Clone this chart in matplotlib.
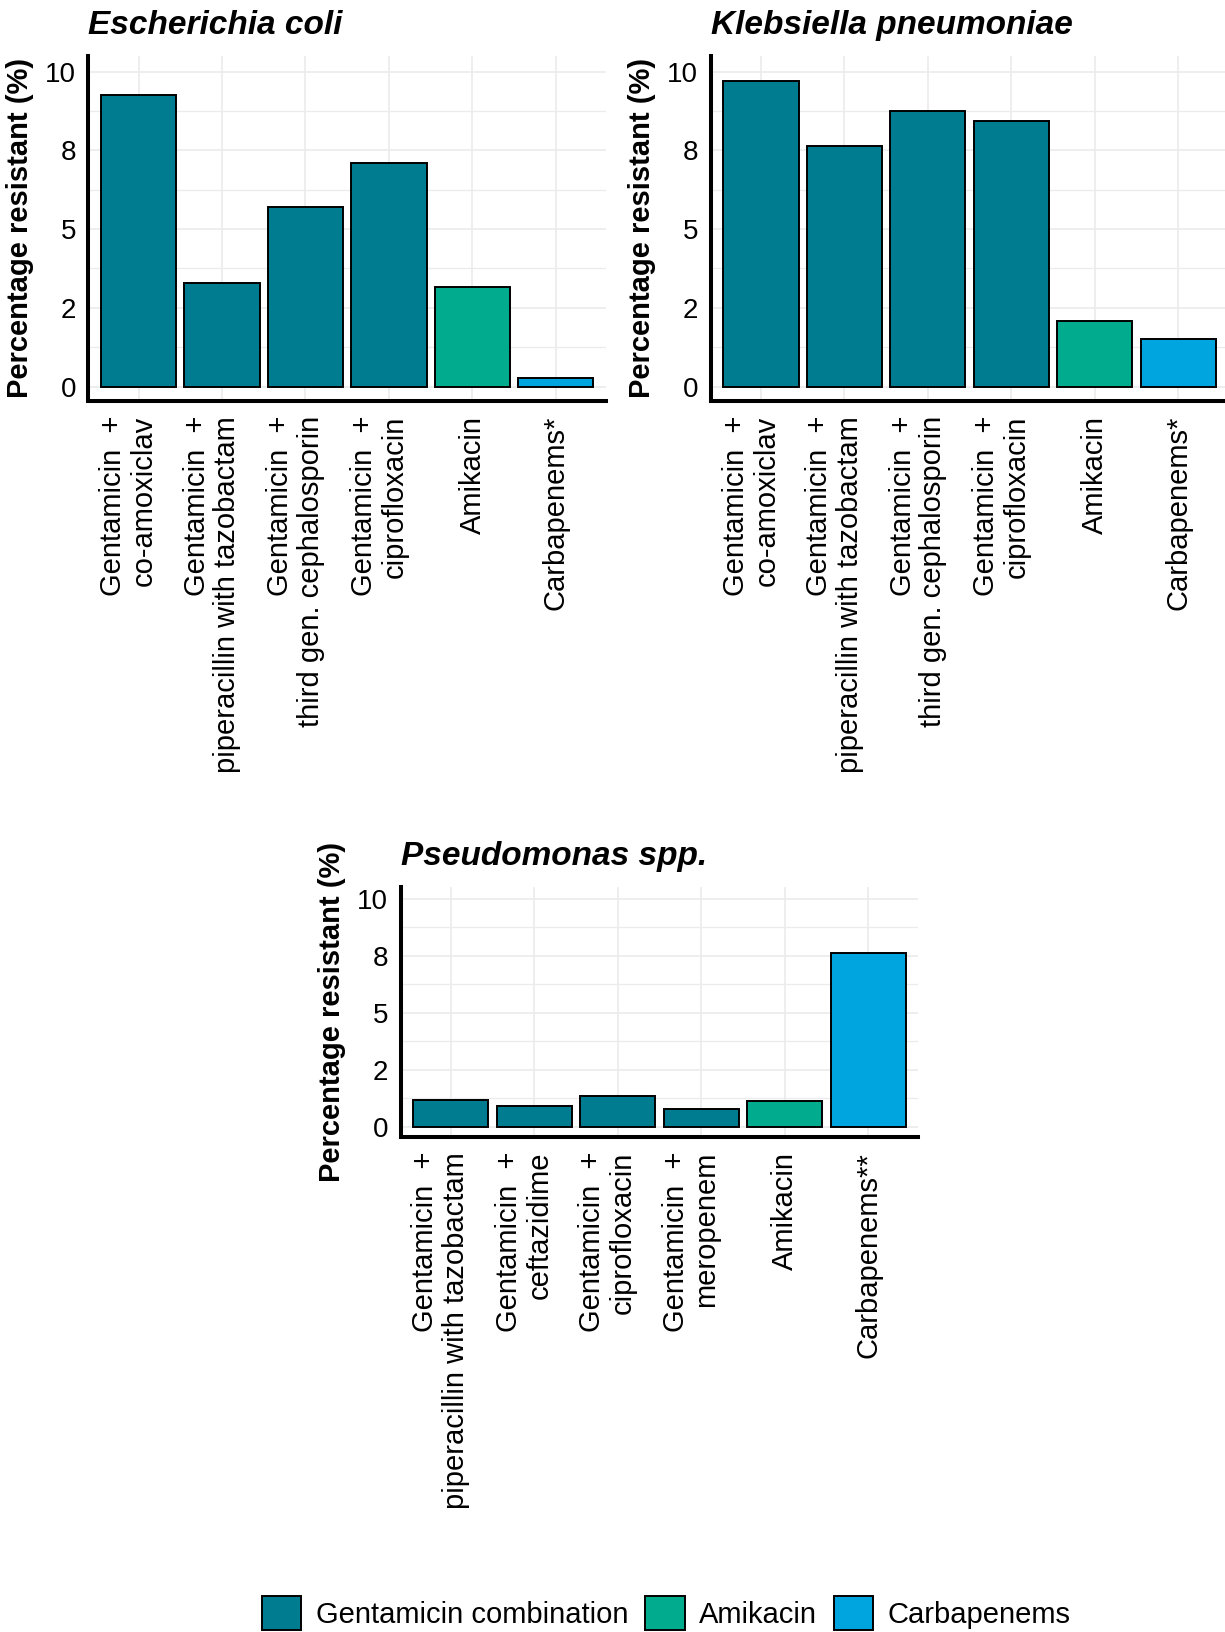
import matplotlib
matplotlib.use("Agg")
import matplotlib.pyplot as plt
import matplotlib.transforms as mtransforms
from matplotlib.patches import Patch

plt.rcParams['font.family'] = ['Liberation Sans', 'DejaVu Sans']

# data (percentage resistant)
ecoli_labels = ["Gentamicin  +\nco-amoxiclav",
                "Gentamicin  +\npiperacillin with tazobactam",
                "Gentamicin  +\nthird gen. cephalosporin",
                "Gentamicin  +\nciprofloxacin",
                "Amikacin",
                "Carbapenems*"]
ecoli_values = [9.26, 3.28, 5.71, 7.09, 3.15, 0.26]

kpn_labels = ecoli_labels
kpn_values = [9.70, 7.65, 8.76, 8.42, 2.08, 1.51]

pseud_labels = ["Gentamicin  +\npiperacillin with tazobactam",
                "Gentamicin  +\nceftazidime",
                "Gentamicin  +\nciprofloxacin",
                "Gentamicin  +\nmeropenem",
                "Amikacin",
                "Carbapenems**"]
pseud_values = [1.17, 0.91, 1.36, 0.76, 1.14, 7.64]

groups = ["Gentamicin combination"] * 4 + ["Amikacin", "Carbapenems"]
group_names = ["Gentamicin combination", "Amikacin", "Carbapenems"]
group_colors = {"Gentamicin combination": "#007C91",
                "Amikacin": "#00AB8E",
                "Carbapenems": "#00A4DE"}

y_ticks = [0, 2.5, 5, 7.5, 10]
y_tick_labels = ["0", "2", "5", "8", "10"]
y_minor = [1.25, 3.75, 6.25, 8.75]

fig = plt.figure(figsize=(12.25, 16.32), dpi=100)


def draw_panel(rect, title, labels, values):
    ax = fig.add_axes(rect)
    x = list(range(len(labels)))
    cols = [group_colors[g] for g in groups]
    ax.bar(x, values, width=0.9, color=cols, edgecolor='black', linewidth=1.4, zorder=3)
    ax.set_xlim(-0.6, len(labels) - 0.4)
    ax.set_ylim(-0.45, 10.5)

    ax.set_yticks(y_ticks)
    ax.set_yticklabels(y_tick_labels)
    ax.set_yticks(y_minor, minor=True)
    ax.set_xticks(x)
    ax.set_xticklabels([])

    # category labels drawn by hand; two-line ones sit a bit left of the tick
    for i, lab in enumerate(labels):
        dx = -10 if "\n" in lab else 0
        off = mtransforms.ScaledTranslation(dx / 100, -15 / 100, fig.dpi_scale_trans)
        ax.text(i, 0, lab, transform=ax.get_xaxis_transform() + off,
                rotation=90, ha='right', va='center', rotation_mode='anchor',
                multialignment='right', linespacing=1.12, fontsize=21)

    ax.tick_params(axis='both', which='both', length=0)
    ax.tick_params(axis='y', labelsize=20, pad=9)

    ax.grid(True, which='major', color='#EBEBEB', linewidth=1.2, zorder=0)
    ax.grid(True, which='minor', axis='y', color='#EBEBEB', linewidth=0.9, zorder=0)
    ax.set_axisbelow(True)

    for side in ['top', 'right']:
        ax.spines[side].set_visible(False)
    for side in ['left', 'bottom']:
        ax.spines[side].set_linewidth(2.9)
        ax.spines[side].set_color('black')

    ax.set_ylabel('Percentage resistant (%)', fontsize=21, fontweight='bold', labelpad=8)
    ax.set_title(title, loc='left', fontsize=24, fontweight='bold', style='italic', pad=16)
    return ax


unit_w = 0.4225
draw_panel([0.0722, 0.7544, unit_w, 0.2114], 'Escherichia coli', ecoli_labels, ecoli_values)
draw_panel([0.5803, 0.7544, unit_w, 0.2114], 'Klebsiella pneumoniae', kpn_labels, kpn_values)
draw_panel([0.3271, 0.3034, unit_w, 0.1528], 'Pseudomonas spp.', pseud_labels, pseud_values)

handles = [Patch(facecolor=group_colors[g], edgecolor='black', linewidth=1.4) for g in group_names]
fig.legend(handles, group_names, loc='center', bbox_to_anchor=(0.544, 0.0116),
           ncol=3, frameon=False, fontsize=21, handlelength=1.35, handleheight=1.4,
           handletextpad=0.5, columnspacing=0.57, borderpad=0)

fig.savefig('out.png', dpi=100)
